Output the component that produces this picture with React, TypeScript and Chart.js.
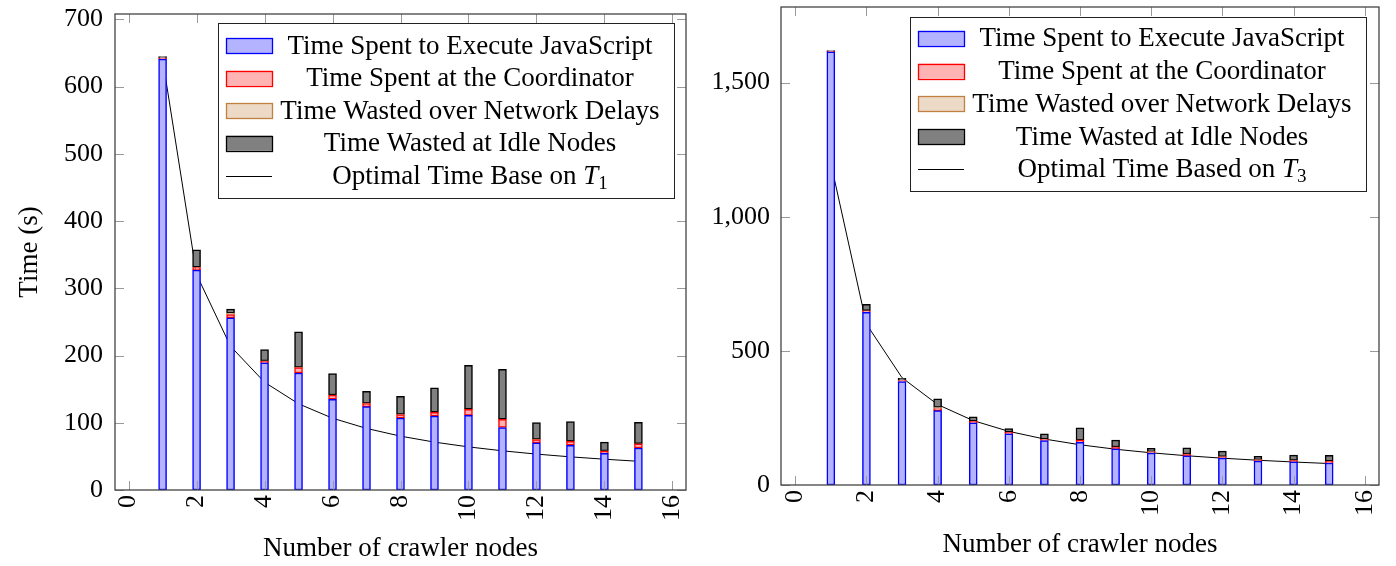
import React, { useEffect, useRef } from 'react';
import { Chart, registerables } from 'chart.js';

Chart.register(...registerables);

const SERIF = '"Liberation Serif", "Times New Roman", Times, serif';

// ---------- data ----------
const nodes = [1, 2, 3, 4, 5, 6, 7, 8, 9, 10, 11, 12, 13, 14, 15];

const leftExecJS = [641, 327, 256, 189, 174, 135, 124, 107, 110, 111, 93, 70, 66.5, 54.5, 62.5];
const leftCoordinator = [1.5, 4, 5, 2.5, 8, 6, 4.5, 5, 5.5, 9, 12, 5, 6, 3.4, 6];
const leftNetwork = [0.3, 0.3, 2, 0.5, 0.3, 0.3, 0.3, 0.3, 0.3, 0.3, 0.3, 0.3, 0.3, 0.3, 0.3];
const leftIdle = [2, 26, 6, 17, 53, 32, 18, 27, 36, 65, 74, 25, 29, 13, 32];
const leftOptimal = [641, 320.5, 213.7, 160.3, 128.2, 106.8, 91.6, 80.1, 71.2, 64.1, 58.3, 53.4, 49.3, 45.8, 42.7];

const rightExecJS = [1615, 644, 386, 277, 232, 191, 166, 159, 135, 119, 109, 100, 89, 86, 82];
const rightCoordinator = [2, 5, 3, 7, 5, 5, 4, 8, 6, 5, 6, 5, 5, 5, 6];
const rightNetwork = [0.5, 0.5, 2, 5, 0.5, 0.5, 0.5, 0.5, 0.5, 0.5, 0.5, 0.5, 0.5, 0.5, 0.5];
const rightIdle = [2, 24, 7, 32, 17, 14, 20, 46, 26, 12, 23, 21, 12, 20, 22];
const rightOptimal = [1200, 600, 400, 300, 240, 200, 171.4, 150, 133.3, 120, 109.1, 100, 92.3, 85.7, 80];

const xTickValues = [0, 2, 4, 6, 8, 10, 12, 14, 16];
const leftYTickValues = [0, 100, 200, 300, 400, 500, 600, 700];
const rightYTickValues = [0, 500, 1000, 1500];

const seriesLabels = [
  'Time Spent to Execute JavaScript',
  'Time Spent at the Coordinator',
  'Time Wasted over Network Delays',
  'Time Wasted at Idle Nodes',
];
const leftLineLabel = ['Optimal Time Base on ', 'T', '1'];
const rightLineLabel = ['Optimal Time Based on ', 'T', '3'];
const xTitle = 'Number of crawler nodes';
const leftYTitle = 'Time (s)';

// ---------- styles ----------
const fills = ['#b3b3ff', '#ffb3b3', '#ecd9c6', '#808080'];
const borders = ['#0000ff', '#ff0000', '#bf8040', '#000000'];

// ---------- plugins ----------
const frameTicksPlugin = {
  id: 'frameTicks',
  afterDatasetsDraw(chart: any) {
    const { ctx, chartArea: a, scales } = chart;
    const tl = 9;
    ctx.save();
    ctx.strokeStyle = '#9a9a9a';
    ctx.lineWidth = 1;
    ctx.beginPath();
    scales.x.ticks.forEach((t: any) => {
      const px = Math.round(scales.x.getPixelForValue(t.value)) + 0.5;
      ctx.moveTo(px, a.bottom);
      ctx.lineTo(px, a.bottom - tl);
      ctx.moveTo(px, a.top);
      ctx.lineTo(px, a.top + tl);
    });
    scales.y.ticks.forEach((t: any) => {
      const py = Math.round(scales.y.getPixelForValue(t.value)) + 0.5;
      ctx.moveTo(a.left, py);
      ctx.lineTo(a.left + tl, py);
      ctx.moveTo(a.right, py);
      ctx.lineTo(a.right - tl, py);
    });
    ctx.stroke();
    ctx.strokeStyle = '#444';
    ctx.lineWidth = 1.3;
    ctx.strokeRect(a.left, a.top, a.right - a.left, a.bottom - a.top);
    ctx.restore();
  },
};

const boxLegendPlugin = {
  id: 'boxLegend',
  afterDraw(chart: any, _args: any, opts: any) {
    if (!opts || !opts.box) return;
    const { ctx } = chart;
    const b = opts.box;
    ctx.save();
    ctx.fillStyle = '#fff';
    ctx.fillRect(b.x, b.y, b.w, b.h);
    ctx.strokeStyle = '#222';
    ctx.lineWidth = 1;
    ctx.strokeRect(b.x + 0.5, b.y + 0.5, b.w, b.h);
    const ds = chart.data.datasets;
    ds.forEach((d: any, i: number) => {
      const cy = b.y + b.firstRow + i * b.rowStep;
      const sx = b.x + b.swatchX;
      if (d.type === 'line') {
        ctx.strokeStyle = '#000';
        ctx.lineWidth = 1;
        ctx.beginPath();
        ctx.moveTo(sx, Math.round(cy) + 0.5);
        ctx.lineTo(sx + b.swatchW, Math.round(cy) + 0.5);
        ctx.stroke();
      } else {
        ctx.fillStyle = d.backgroundColor;
        ctx.fillRect(sx, cy - b.swatchH / 2, b.swatchW, b.swatchH);
        ctx.strokeStyle = d.borderColor;
        ctx.lineWidth = 1.3;
        ctx.strokeRect(sx + 0.5, Math.round(cy - b.swatchH / 2) + 0.5, b.swatchW, b.swatchH);
      }
      const parts: { text: string; font: string; dy: number }[] = [];
      if (d.type === 'line') {
        const lp = opts.lineLabel;
        parts.push({ text: lp[0], font: `27px ${SERIF}`, dy: 0 });
        parts.push({ text: lp[1], font: `italic 27px ${SERIF}`, dy: 0 });
        parts.push({ text: lp[2], font: `19px ${SERIF}`, dy: 5 });
      } else {
        parts.push({ text: d.label, font: `27px ${SERIF}`, dy: 0 });
      }
      let total = 0;
      parts.forEach((p) => {
        ctx.font = p.font;
        total += ctx.measureText(p.text).width;
      });
      let tx = b.x + b.textCenter - total / 2;
      const base = cy + 8;
      ctx.fillStyle = '#000';
      ctx.textAlign = 'left';
      ctx.textBaseline = 'alphabetic';
      parts.forEach((p) => {
        ctx.font = p.font;
        ctx.fillText(p.text, tx, base + p.dy);
        tx += ctx.measureText(p.text).width;
      });
    });
    ctx.restore();
  },
};

type PanelCfg = {
  exec: number[];
  coord: number[];
  net: number[];
  idle: number[];
  optimal: number[];
  lineLabel: string[];
  yMax: number;
  yTicks: number[];
  yTitle: string;
  padTop: number;
  padRight: number;
  yWidth: number;
  xHeight: number;
  yTickPad: number;
  xTitlePadBottom: number;
  box: any;
};

const leftCfg: PanelCfg = {
  exec: leftExecJS,
  coord: leftCoordinator,
  net: leftNetwork,
  idle: leftIdle,
  optimal: leftOptimal,
  lineLabel: leftLineLabel,
  yMax: 708,
  yTicks: leftYTickValues,
  yTitle: leftYTitle,
  padTop: 14,
  padRight: 12,
  yWidth: 115,
  xHeight: 76,
  yTickPad: 12,
  xTitlePadBottom: 1,
  box: { x: 218, y: 23, w: 456, h: 175, firstRow: 22.7, rowStep: 32.5, swatchX: 8, swatchW: 46, swatchH: 15, textCenter: 252 },
};

const rightCfg: PanelCfg = {
  exec: rightExecJS,
  coord: rightCoordinator,
  net: rightNetwork,
  idle: rightIdle,
  optimal: rightOptimal,
  lineLabel: rightLineLabel,
  yMax: 1782,
  yTicks: rightYTickValues,
  yTitle: '',
  padTop: 7,
  padRight: 17,
  yWidth: 83,
  xHeight: 81,
  yTickPad: 11,
  xTitlePadBottom: 5,
  box: { x: 212, y: 17, w: 456, h: 174, firstRow: 21.3, rowStep: 32.75, swatchX: 8, swatchW: 46, swatchH: 15, textCenter: 252 },
};

function zeroPad(s: any) {
  s.paddingLeft = 0;
  s.paddingRight = 0;
  s.paddingTop = 0;
  s.paddingBottom = 0;
}

function Panel({ cfg, left, width }: { cfg: PanelCfg; left: number; width: number }) {
  const ref = useRef<HTMLCanvasElement | null>(null);
  useEffect(() => {
    if (!ref.current) return;
    const series = [cfg.exec, cfg.coord, cfg.net, cfg.idle];
    const datasets: any[] = series.map((vals, i) => ({
      type: 'bar',
      label: seriesLabels[i],
      data: nodes.map((n, k) => ({ x: n, y: vals[k] })),
      backgroundColor: fills[i],
      borderColor: borders[i],
      borderWidth: 1.5,
      borderSkipped: false,
      barThickness: 8,
      order: 0,
      stack: 'bars',
    }));
    datasets.push({
      type: 'line',
      label: cfg.lineLabel.join(''),
      data: nodes.map((n, k) => ({ x: n, y: cfg.optimal[k] })),
      borderColor: '#000',
      borderWidth: 1,
      pointRadius: 0,
      tension: 0,
      fill: false,
      order: 1,
      stack: 'line',
    });
    const chart = new Chart(ref.current, {
      type: 'bar',
      data: { datasets },
      options: {
        responsive: false,
        animation: false,
        events: [],
        layout: { padding: { top: cfg.padTop, right: cfg.padRight, left: 0, bottom: 0 } },
        plugins: {
          legend: { display: false },
          tooltip: { enabled: false },
          boxLegend: { box: cfg.box, lineLabel: cfg.lineLabel },
        } as any,
        scales: {
          x: {
            type: 'linear',
            min: -0.4,
            max: 16.4,
            bounds: 'data',
            stacked: true,
            offset: false,
            grid: { display: false, drawTicks: false },
            border: { display: false },
            afterBuildTicks: (s: any) => {
              s.ticks = xTickValues.map((v) => ({ value: v }));
            },
            afterFit: (s: any) => {
              s.height = cfg.xHeight;
              zeroPad(s);
            },
            ticks: {
              minRotation: 90,
              maxRotation: 90,
              padding: 5,
              color: '#000',
              font: { family: SERIF, size: 26 },
              callback: (v: any) => String(v),
            },
            title: {
              display: true,
              text: xTitle,
              color: '#000',
              font: { family: SERIF, size: 27 },
              padding: { top: 0, bottom: cfg.xTitlePadBottom },
            },
          },
          y: {
            type: 'linear',
            min: 0,
            max: cfg.yMax,
            bounds: 'data',
            stacked: true,
            grid: { display: false, drawTicks: false },
            border: { display: false },
            afterBuildTicks: (s: any) => {
              s.ticks = cfg.yTicks.map((v) => ({ value: v }));
            },
            afterFit: (s: any) => {
              s.width = cfg.yWidth;
              zeroPad(s);
            },
            ticks: {
              padding: cfg.yTickPad,
              color: '#000',
              font: { family: SERIF, size: 26 },
              callback: (v: any) => Number(v).toLocaleString('en-US'),
            },
            title: {
              display: cfg.yTitle !== '',
              text: cfg.yTitle,
              color: '#000',
              font: { family: SERIF, size: 27 },
              padding: { top: 14, bottom: 0 },
            },
          },
        } as any,
      },
      plugins: [frameTicksPlugin, boxLegendPlugin],
    } as any);
    return () => chart.destroy();
  }, [cfg]);
  return (
    <canvas
      ref={ref}
      width={width}
      height={566}
      style={{ position: 'absolute', left, top: 0, width, height: 566 }}
    />
  );
}

export default function App() {
  return (
    <div style={{ position: 'fixed', left: 0, top: 0, width: 1396, height: 566, background: '#fff' }}>
      <Panel cfg={leftCfg} left={0} width={698} />
      <Panel cfg={rightCfg} left={698} width={698} />
    </div>
  );
}
